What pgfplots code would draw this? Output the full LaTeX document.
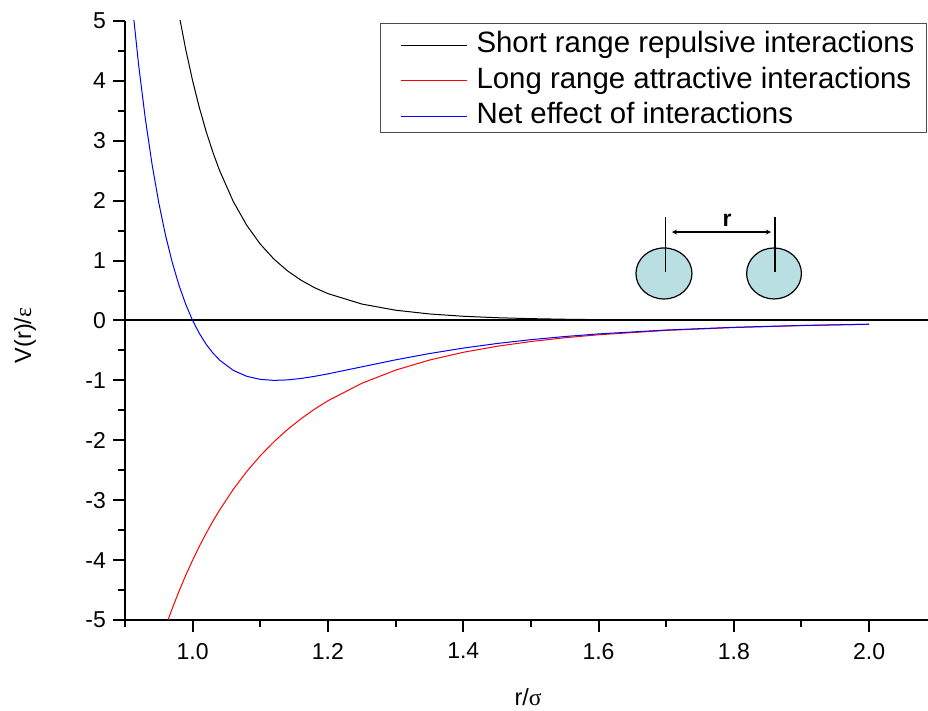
\documentclass[border=0pt]{standalone}
\usepackage{pgfplots}
\pgfplotsset{compat=1.18}
\usepackage{fontspec}
\setmainfont{Liberation Sans}
\newfontfamily\symb{Liberation Serif}
\usetikzlibrary{arrows.meta}
\definecolor{ballfill}{RGB}{185,223,227}
\definecolor{cRed}{RGB}{255,0,0}
\definecolor{cBlue}{RGB}{0,0,255}

\pgfplotstableread{
r V
0.90 14.163
0.91 12.404
0.92 10.879
0.93 9.5557
0.94 8.4047
0.95 7.4025
0.96 6.5284
0.97 5.7650
0.98 5.0974
0.99 4.5127
1.00 4.0000
1.01 3.5498
1.02 3.1540
1.03 2.8055
1.04 2.4984
1.06 1.9879
1.08 1.5885
1.10 1.2745
1.12 1.0267
1.14 0.8302
1.16 0.6739
1.18 0.5489
1.20 0.4486
1.25 0.2749
1.30 0.1717
1.35 0.1092
1.40 0.0706
1.45 0.0463
1.50 0.0308
1.55 0.0208
1.60 0.0142
1.70 0.0069
1.80 0.0035
1.90 0.0018
2.00 0.0010
}\tabRep

\pgfplotstableread{
r V
0.90 -7.5267
0.92 -6.5968
0.94 -5.7982
0.95 -5.4415
0.96 -5.1101
0.97 -4.8021
0.98 -4.5155
0.99 -4.2486
1.00 -4.0000
1.01 -3.7682
1.02 -3.5519
1.03 -3.3499
1.04 -3.1613
1.06 -2.8199
1.08 -2.5207
1.10 -2.2579
1.12 -2.0265
1.14 -1.8223
1.16 -1.6418
1.18 -1.4817
1.20 -1.3396
1.25 -1.0486
1.30 -0.8287
1.35 -0.6608
1.40 -0.5312
1.45 -0.4304
1.50 -0.3512
1.55 -0.2884
1.60 -0.2384
1.70 -0.1657
1.80 -0.1176
1.90 -0.0850
2.00 -0.0625
}\tabAtt

\pgfplotstableread{
r V
0.90 6.636
0.91 5.360
0.92 4.282
0.93 3.373
0.94 2.607
0.95 1.961
0.96 1.418
0.97 0.963
0.98 0.582
0.99 0.264
1.00 0.000
1.01 -0.218
1.02 -0.398
1.03 -0.544
1.04 -0.663
1.06 -0.832
1.08 -0.932
1.10 -0.983
1.12 -1.000
1.14 -0.992
1.16 -0.968
1.18 -0.933
1.20 -0.891
1.25 -0.774
1.30 -0.657
1.35 -0.552
1.40 -0.461
1.45 -0.384
1.50 -0.320
1.55 -0.268
1.60 -0.224
1.70 -0.159
1.80 -0.114
1.90 -0.083
2.00 -0.062
}\tabNet

\newcommand{\legline}[1]{\rule{10pt}{0pt}\textcolor{#1}{\rule[3.6pt]{33pt}{0.5pt}}\rule{5pt}{0pt}}

\begin{document}
\begin{tikzpicture}
\begin{axis}[
  name=ax,
  scale only axis,
  width=401.5pt, height=299.5pt,
  xmin=0.9, xmax=2.087,
  ymin=-5, ymax=5,
  axis lines*=left,
  axis line style={line width=1pt, -},
  tick align=outside,
  major tick length=6pt,
  minor tick length=3.5pt,
  every tick/.style={black, line width=1pt},
  xtick={1.0,1.2,1.4,1.6,1.8,2.0},
  minor xtick={0.9,1.1,1.3,1.5,1.7,1.9},
  ytick={-5,-4,-3,-2,-1,0,1,2,3,4,5},
  minor ytick={-4.5,-3.5,-2.5,-1.5,-0.5,0.5,1.5,2.5,3.5,4.5},
  /pgf/number format/assume math mode=true,
  ticklabel style={font=\fontsize{11.5}{13}\selectfont},
  xticklabel style={yshift=-2pt, /pgf/number format/.cd, fixed, fixed zerofill, precision=1},
  yticklabel style={/pgf/number format/.cd, int detect},
  xlabel={r/{\symb σ}},
  ylabel={V(r)/{\symb ε}},
  label style={font=\fontsize{11.75}{14}\selectfont},
  xlabel style={at={(axis description cs:0.502,-0.1285)}, anchor=center},
  ylabel style={at={(axis description cs:-0.1245,0.475)}, anchor=center},
]
\addplot[black, line width=1pt, forget plot] coordinates {(0.9,0) (2.087,0)};
\addplot[draw=black, line width=0.5pt, forget plot] table[x=r, y=V] {\tabRep};
\addplot[draw=cRed, line width=0.5pt, forget plot] table[x=r, y=V] {\tabAtt};
\addplot[draw=cBlue, line width=0.5pt, forget plot] table[x=r, y=V] {\tabNet};
% schematic of two particles
\draw[black, line width=0.6pt, fill=ballfill] (axis cs:1.6967,0.785) ellipse [x radius=14pt, y radius=12.75pt];
\draw[black, line width=0.6pt, fill=ballfill] (axis cs:1.8594,0.785) ellipse [x radius=13.7pt, y radius=12.75pt];
\draw[black, line width=0.6pt] (axis cs:1.6987,1.728) -- (axis cs:1.6987,0.81);
\draw[black, line width=0.6pt] (axis cs:1.8608,1.728) -- (axis cs:1.8608,0.81);
\draw[black, line width=0.8pt, {Stealth[length=2.5pt,width=2.5pt]}-{Stealth[length=2.5pt,width=2.5pt]}] (axis cs:1.7086,1.477) -- (axis cs:1.8549,1.477);
\node[font=\bfseries\fontsize{11.5}{13}\selectfont, inner sep=0pt] at (axis cs:1.7899,1.68) {r};
\end{axis}
% legend
\node[draw=black!70, line width=0.5pt, fill=white, anchor=north east,
      inner xsep=0pt, inner ysep=4pt, align=left,
      font=\fontsize{14.7}{17.75}\selectfont]
  at ([xshift=-0.5pt,yshift=-1pt]ax.north east)
  {\legline{black}Short range repulsive interactions\rule{6pt}{0pt}\\
   \legline{cRed}Long range attractive interactions\\
   \legline{cBlue}Net effect of interactions};
\pgfresetboundingbox
\path[use as bounding box] ([shift={(-62.5pt,-45.5pt)}]ax.south west) rectangle ([shift={(401.5pt,310pt)}]ax.south west);
\end{tikzpicture}
\end{document}
